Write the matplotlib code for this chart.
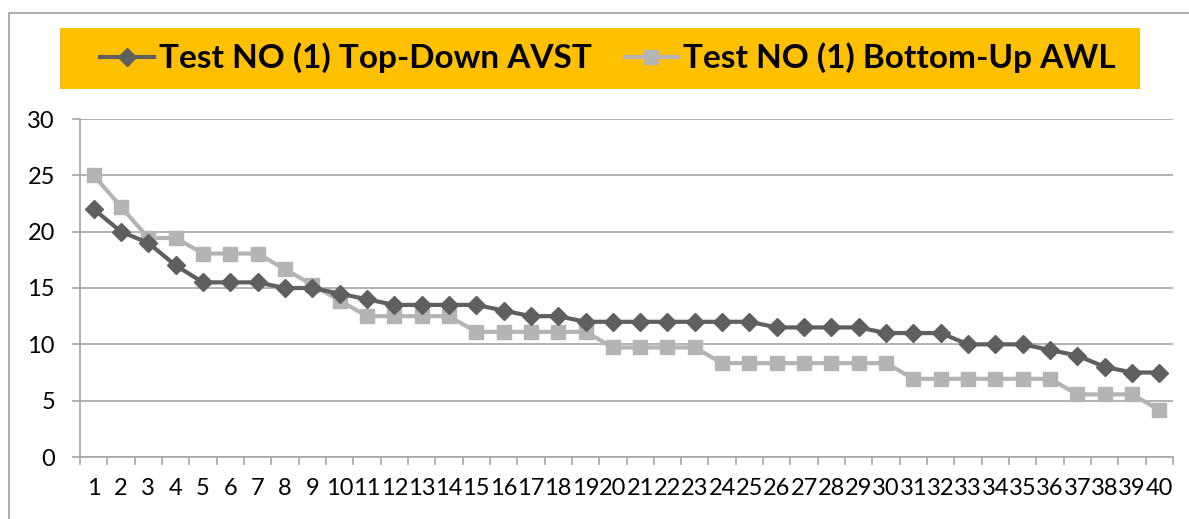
import matplotlib.pyplot as plt
from matplotlib.patches import Rectangle
from matplotlib.ticker import MultipleLocator

plt.rcParams['font.family'] = ['Lato', 'DejaVu Sans']

# data
tests = list(range(1, 41))
top_down_avst = [22, 20, 19, 17, 15.5, 15.5, 15.5, 15, 15, 14.5,
                 14, 13.5, 13.5, 13.5, 13.5, 13, 12.5, 12.5, 12, 12,
                 12, 12, 12, 12, 12, 11.5, 11.5, 11.5, 11.5, 11,
                 11, 11, 10, 10, 10, 9.5, 9, 8, 7.5, 7.5]
bottom_up_awl = [25, 22.22, 19.44, 19.44, 18.06, 18.06, 18.06, 16.67, 15.28, 13.89,
                 12.5, 12.5, 12.5, 12.5, 11.11, 11.11, 11.11, 11.11, 11.11, 9.72,
                 9.72, 9.72, 9.72, 8.33, 8.33, 8.33, 8.33, 8.33, 8.33, 8.33,
                 6.94, 6.94, 6.94, 6.94, 6.94, 6.94, 5.56, 5.56, 5.56, 4.17]
labels = ["Test NO (1) Top-Down AVST", "Test NO (1) Bottom-Up AWL"]

W, H = 1189, 519
fig = plt.figure(figsize=(W / 100, H / 100), dpi=100)
ax = fig.add_axes([80 / W, 1 - 457 / H, (1173 - 80) / W, (457 - 119) / H])

dark = "#5f5f5f"
light = "#b4b4b4"
grid = "#a6a6a6"

l1, = ax.plot(tests, top_down_avst, color=dark, lw=3, marker="D", ms=9,
              label=labels[0], zorder=3)
l2, = ax.plot(tests, bottom_up_awl, color=light, lw=3, marker="s", ms=10,
              label=labels[1], zorder=2)

ax.set_ylim(0, 30)
ax.set_xlim(0.5, 40.5)
ax.yaxis.set_major_locator(MultipleLocator(5))
ax.set_xticks(tests)
ax.set_xticklabels([str(t) for t in tests])
ax.set_xticks([t + 0.5 for t in range(0, 41)], minor=True)
ax.tick_params(axis="x", which="major", length=0, pad=15, labelsize=17)
ax.tick_params(axis="x", which="minor", length=6, color=grid, width=1.2)
ax.tick_params(axis="y", length=6, color=grid, width=1.2, labelsize=17, pad=12)
ax.grid(axis="y", color=grid, lw=1.2)
ax.set_axisbelow(True)
for s in ("top", "right"):
    ax.spines[s].set_visible(False)
for s in ("left", "bottom"):
    ax.spines[s].set_color(grid)
    ax.spines[s].set_linewidth(1.2)

# orange legend band
fig.patches.append(Rectangle((60 / W, 1 - 89 / H), (1140 - 60) / W, 61 / H,
                             transform=fig.transFigure, facecolor="#ffc000",
                             edgecolor="none", zorder=0))
leg = fig.legend(handles=[l1, l2], loc="center", ncol=2, frameon=False,
                 bbox_to_anchor=(608 / W, 1 - 58 / H), handlelength=1.6,
                 handletextpad=0.15, columnspacing=1.0,
                 prop={"weight": "bold", "size": 24})

# outer chart border
fig.patches.append(Rectangle((9 / W, -0.01), 1.1, 1 - 13 / H + 0.01,
                             transform=fig.transFigure, facecolor="none",
                             edgecolor="#a0a0a0", lw=1.2, zorder=0))

fig.savefig("out.png", dpi=100)
